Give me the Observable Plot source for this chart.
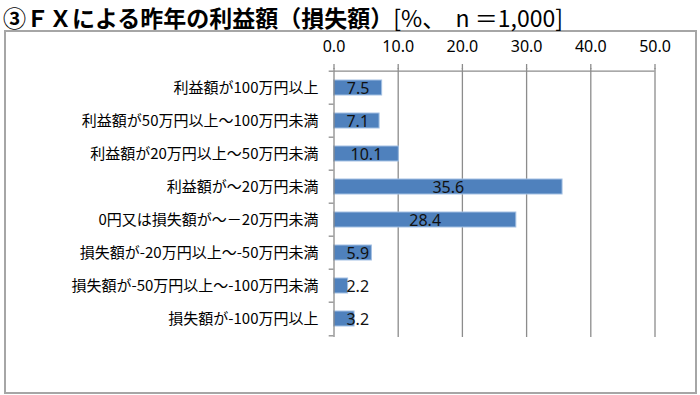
<!DOCTYPE html>
<html>
<head>
<meta charset="utf-8">
<script src="https://cdn.jsdelivr.net/npm/d3@7"></script>
<script src="https://cdn.jsdelivr.net/npm/@observablehq/plot@0.6"></script>
<style>
  html, body { margin: 0; padding: 0; background: #fff; }
  #wrap { position: relative; width: 700px; height: 395px; overflow: hidden; background: #fff; }
  #title { position: absolute; left: 3px; top: 0px; font-family: "Noto Sans CJK JP", sans-serif; font-size: 23px; line-height: normal; color: #000; white-space: pre; }
  #title .main { font-weight: 700; }
  #title .sub { font-weight: 400; }
  #box { position: absolute; left: 4px; top: 30px; width: 693px; height: 364px; box-sizing: border-box; border: 2px solid #a6a6a6; }
  #chart { position: absolute; left: 0; top: 0; }
</style>
</head>
<body>
<div id="wrap">
  <div id="box"></div>
  <div id="chart"></div>
  <div id="title"><span class="main">③ＦＸによる昨年の利益額（損失額）</span><span class="sub">[%、  n ＝1,000]</span></div>
</div>
<script>
const categories = [
  "利益額が100万円以上",
  "利益額が50万円以上～100万円未満",
  "利益額が20万円以上～50万円未満",
  "利益額が～20万円未満",
  "0円又は損失額が～－20万円未満",
  "損失額が-20万円以上～-50万円未満",
  "損失額が-50万円以上～-100万円未満",
  "損失額が-100万円以上"
];
const values = [7.5, 7.1, 10.1, 35.6, 28.4, 5.9, 2.2, 3.2];
const xTicks = [0, 10, 20, 30, 40, 50];

const data = categories.map((c, i) => ({category: c, value: values[i]}));

const marginTop = 68, marginBottom = 58;
const step = (395 - marginTop - marginBottom) / categories.length;
const fmt = d3.format(".1f");

const chart = Plot.plot({
  width: 700,
  height: 395,
  marginLeft: 333.5,
  marginRight: 45.5,
  marginTop,
  marginBottom,
  style: {background: "transparent", fontFamily: "'Noto Sans', sans-serif", overflow: "visible"},
  x: {domain: [0, 50], axis: null, label: null},
  y: {domain: categories, paddingInner: 0.55, paddingOuter: 0.275, axis: null, label: null},
  marks: [
    Plot.gridX(xTicks.slice(1), {stroke: "#8c8c8c", strokeOpacity: 1, strokeWidth: 1.3}),
    Plot.barX(data, {x: "value", y: "category", fill: "#4f81bd", stroke: "#a3c0e3", strokeWidth: 1}),
    Plot.ruleX([0], {stroke: "#8c8c8c", strokeWidth: 1.3}),
    Plot.ruleY([categories[0]], {y: d => d, x1: 0, x2: 50, dy: -step / 2, stroke: "#8c8c8c", strokeWidth: 1.3}),
    Plot.ruleY(categories, {y: d => d, x1: -0.75, x2: 0, dy: -step / 2, stroke: "#8c8c8c", strokeWidth: 1.3}),
    Plot.ruleY([categories[categories.length - 1]], {y: d => d, x1: -0.75, x2: 0, dy: step / 2, stroke: "#8c8c8c", strokeWidth: 1.3}),
    Plot.axisX(xTicks, {anchor: "top", label: null, tickSize: 5, tickPadding: 12, tickFormat: fmt, stroke: "#8c8c8c", fill: "#000", fontSize: 16, strokeWidth: 1.3}),
    Plot.axisY({label: null, tickSize: 0, tickPadding: 15.5, fontSize: 15, fill: "#000", fontFamily: "'Noto Sans CJK JP', sans-serif"}),
    Plot.text(data, {x: d => Math.max(d.value / 2, 3.7), y: "category", text: d => fmt(d.value), fontSize: 16, fill: "#111", dy: 1})
  ]
});
document.getElementById("chart").appendChild(chart);
</script>
</body>
</html>
